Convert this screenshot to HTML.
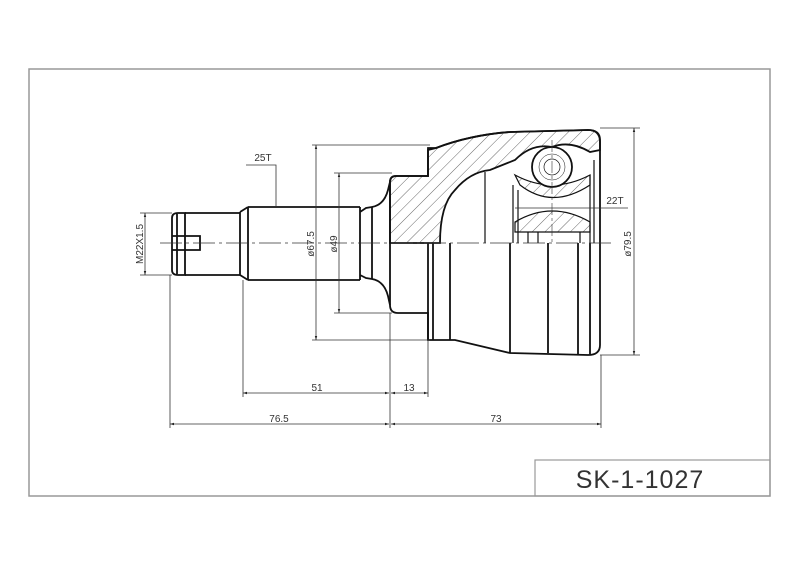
<!DOCTYPE html>
<html><head><meta charset="utf-8"><style>
html,body{margin:0;padding:0;background:#fff;}
svg{display:block;}
text{font-family:"Liberation Sans",sans-serif;fill:#333;}
</style></head><body>
<svg width="800" height="565" viewBox="0 0 800 565" xmlns="http://www.w3.org/2000/svg">
<defs>
<pattern id="h" width="9" height="9" patternUnits="userSpaceOnUse" patternTransform="rotate(45)">
<line x1="0" y1="0" x2="0" y2="9" stroke="#444" stroke-width="0.8"/>
</pattern>
<marker id="a" viewBox="0 0 10 10" refX="10" refY="5" markerWidth="6" markerHeight="5" orient="auto-start-reverse"><path d="M0,2 L10,5 L0,8z" fill="#222"/></marker>
</defs>
<rect x="29" y="69" width="741" height="427" fill="none" stroke="#999" stroke-width="1.5"/>
<rect x="535" y="460" width="235" height="36" fill="none" stroke="#999" stroke-width="1.2"/>
<text x="640" y="488" font-size="25" text-anchor="middle" fill="#777" letter-spacing="1">SK-1-1027</text>

<g stroke="#111" fill="none" stroke-width="1.8">
<path d="M390,243 L390,182 Q390,176 396,176 L428,176 L428,150 L436,148 Q470,135 510,132 L588,130 Q600,130 600,140 L600,150 L590,152 Q570,140 552,147 Q532,143 515,160 L490,170 Q470,172 455,190 Q440,205 440,243 Z" fill="url(#h)"/>
<path d="M515,175 Q552,195 590,175 L590,185 Q552,210 520,185 Z" fill="url(#h)" stroke-width="1.2"/>
<path d="M515,222 Q552,200 590,222 L590,232 L515,232 Z" fill="url(#h)" stroke-width="1.2"/>
<path d="M390,243 L390,182 Q390,176 396,176 L428,176 L428,148 L436,148 Q470,135 510,132 L588,130 Q600,130 600,142 L600,243"/>
<path d="M390,243 L390,305 Q390,313 398,313 L428,313 L428,340 L455,340 L510,353 L588,355 Q600,355 600,345 L600,243"/>
<line x1="428" y1="243" x2="428" y2="340"/>
<line x1="433" y1="243" x2="433" y2="340"/>
<line x1="450" y1="243" x2="450" y2="340"/>
<line x1="510" y1="243" x2="510" y2="353"/>
<line x1="548" y1="243" x2="548" y2="353"/>
<line x1="578" y1="243" x2="578" y2="354"/>
<line x1="590" y1="243" x2="590" y2="354"/>
<g stroke-width="1.2">
<line x1="485" y1="172" x2="485" y2="243"/>
<line x1="513" y1="185" x2="513" y2="243"/>
<line x1="518" y1="190" x2="518" y2="243"/>
<line x1="528" y1="232" x2="528" y2="243"/>
<line x1="538" y1="232" x2="538" y2="243"/>
<line x1="580" y1="232" x2="580" y2="243"/>
<line x1="590" y1="175" x2="590" y2="243"/>
<line x1="594" y1="160" x2="594" y2="243"/>
</g>
<circle cx="552" cy="167" r="20" fill="#fff"/>
<circle cx="552" cy="167" r="8" stroke-width="0.7"/>
<circle cx="552" cy="167" r="13" stroke-width="0.5"/>
<path d="M360,207 L360,280 M360,212 L366,208 L372,207 Q384,205 388,190 L390,182 M360,275 L366,278 L372,279 Q384,281 388,296 L390,305"/>
<line x1="372" y1="207" x2="372" y2="279"/>
<path d="M248,207 L360,207 M248,280 L360,280 M248,207 L248,280"/>
<path d="M240,212 L248,207 M240,275 L248,280 M240,212 L240,275"/>
<path d="M185,213 L240,213 M185,275 L240,275"/>
<path d="M172,218 Q172,213 178,213 L185,213 L185,275 L178,275 Q172,275 172,270 Z"/>
<line x1="177" y1="214" x2="177" y2="274"/>
<path d="M172,236 L200,236 L200,250 L172,250"/>
</g>
<line x1="160" y1="243" x2="612" y2="243" stroke="#333" stroke-width="0.8" stroke-dasharray="22,4,3,4"/>
<line x1="552" y1="140" x2="552" y2="243" stroke="#333" stroke-width="0.6" stroke-dasharray="12,3,3,3"/>

<g stroke="#333" stroke-width="0.8" fill="none">
<line x1="140" y1="213" x2="172" y2="213"/><line x1="140" y1="275" x2="172" y2="275"/>
<line x1="145" y1="213" x2="145" y2="275" marker-start="url(#a)" marker-end="url(#a)"/>
<line x1="312" y1="145" x2="430" y2="145"/><line x1="312" y1="340" x2="430" y2="340"/>
<line x1="316" y1="145" x2="316" y2="340" marker-start="url(#a)" marker-end="url(#a)"/>
<line x1="334" y1="173" x2="392" y2="173"/><line x1="334" y1="313" x2="392" y2="313"/>
<line x1="339" y1="173" x2="339" y2="313" marker-start="url(#a)" marker-end="url(#a)"/>
<line x1="600" y1="128" x2="640" y2="128"/><line x1="600" y1="355" x2="640" y2="355"/>
<line x1="634" y1="128" x2="634" y2="355" marker-start="url(#a)" marker-end="url(#a)"/>
<polyline points="246,165 276,165 276,207"/>
<line x1="515" y1="208" x2="628" y2="208"/>
<line x1="170" y1="275" x2="170" y2="428"/>
<line x1="243" y1="280" x2="243" y2="397"/>
<line x1="390" y1="313" x2="390" y2="428"/>
<line x1="428" y1="340" x2="428" y2="397"/>
<line x1="601" y1="355" x2="601" y2="428"/>
<line x1="243" y1="393" x2="389" y2="393" marker-start="url(#a)" marker-end="url(#a)"/>
<line x1="391" y1="393" x2="428" y2="393" marker-start="url(#a)" marker-end="url(#a)"/>
<line x1="170" y1="424" x2="389" y2="424" marker-start="url(#a)" marker-end="url(#a)"/>
<line x1="391" y1="424" x2="601" y2="424" marker-start="url(#a)" marker-end="url(#a)"/>
</g>
<g font-size="10">
<text x="317" y="391" text-anchor="middle">51</text>
<text x="409" y="391" text-anchor="middle">13</text>
<text x="279" y="422" text-anchor="middle">76.5</text>
<text x="496" y="422" text-anchor="middle">73</text>
<text x="263" y="161" text-anchor="middle">25T</text>
<text x="615" y="204" text-anchor="middle">22T</text>
<text transform="translate(143,244) rotate(-90)" text-anchor="middle">M22X1.5</text>
<text transform="translate(314,244) rotate(-90)" text-anchor="middle">ø67.5</text>
<text transform="translate(337,244) rotate(-90)" text-anchor="middle">ø49</text>
<text transform="translate(631,244) rotate(-90)" text-anchor="middle">ø79.5</text>
</g>
</svg>
</body></html>
